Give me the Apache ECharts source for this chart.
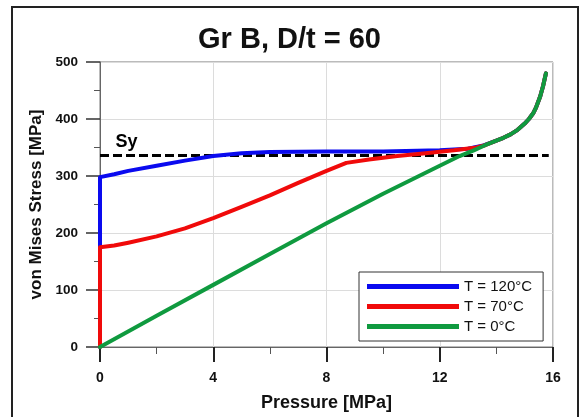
<!DOCTYPE html>
<html>
<head>
<meta charset="utf-8">
<script src="https://cdn.jsdelivr.net/npm/echarts@6/dist/echarts.min.js"></script>
<style>
  html, body { margin: 0; padding: 0; background: #fff; }
  #chart { width: 579px; height: 417px; }
</style>
</head>
<body>
<div id="chart"></div>
<script>
// Pressure [MPa] and von Mises stress [MPa] for each temperature
const seriesNames = ['T = 120°C', 'T = 70°C', 'T = 0°C'];

const p120 = [0, 0, 0.5, 1, 2, 3, 4, 5, 6, 8, 10, 12, 13, 13.5, 14, 14.25, 14.5, 14.75, 15, 15.15, 15.3, 15.4, 15.55, 15.65, 15.75];
const s120 = [0, 298, 303, 309, 318, 327, 335, 340, 342, 343, 343, 345, 348, 353, 362, 367, 373, 381, 392, 400, 410, 420, 440, 458, 480];

const p70 = [0, 0, 0.5, 1, 2, 3, 4, 5, 6, 7, 8, 8.7, 9.5, 10.5, 11.5, 12.5, 13.3, 13.6, 14, 14.25, 14.5, 14.75, 15, 15.15, 15.3, 15.4, 15.55, 15.65, 15.75];
const s70 = [0, 175, 178, 183, 194, 208, 226, 246, 266, 288, 309, 323, 329, 335, 340, 345, 350, 354, 362, 367, 373, 381, 392, 400, 410, 420, 440, 458, 480];

const p0 = [0, 2, 4, 6, 8, 10, 12, 12.7, 13.2, 13.6, 14, 14.25, 14.5, 14.75, 15, 15.15, 15.3, 15.4, 15.55, 15.65, 15.75];
const s0 = [0, 55, 109, 163, 217, 269, 318, 335, 345, 354, 362, 367, 373, 381, 392, 400, 410, 420, 440, 458, 480];

// Yield strength line
const syLabel = 'Sy';
const syValue = 336;
const syRange = [0, 15.85];
const syLabelAt = [0.53, 360];

const xTicks = { min: 0, max: 16, interval: 4 };
const yTicks = { min: 0, max: 500, interval: 100 };

const colors = ['#0a0aef', '#f00a0a', '#0f9a3f'];

const zip = (xs, ys) => xs.map((x, i) => [x, ys[i]]);

const chart = echarts.init(document.getElementById('chart'), null, { renderer: 'canvas' });

const lineSeries = [[p120, s120], [p70, s70], [p0, s0]].map((d, i) => ({
  name: seriesNames[i],
  type: 'line',
  data: zip(d[0], d[1]),
  showSymbol: false,
  symbol: 'none',
  smooth: false,
  lineStyle: { color: colors[i], width: 4, join: 'round', cap: 'round' },
  itemStyle: { color: colors[i] },
  z: 3 + i
}));

chart.setOption({
  animation: false,
  backgroundColor: '#fff',
  textStyle: { fontFamily: 'Arial, "Liberation Sans", sans-serif' },
  title: {
    text: 'Gr B, D/t = 60',
    left: 'center',
    top: 20,
    textStyle: { fontSize: 29, fontWeight: 'bold', color: '#111', fontFamily: 'Arial, "Liberation Sans", sans-serif' }
  },
  graphic: [{
    type: 'rect',
    shape: { x: 12, y: 7, width: 566, height: 430 },
    style: { fill: 'none', stroke: '#222', lineWidth: 2 },
    silent: true
  }],
  grid: {
    left: 100, top: 62, right: 26, bottom: 67,
    show: true, borderColor: '#777', borderWidth: 1, backgroundColor: 'transparent'
  },
  legend: {
    data: seriesNames,
    orient: 'vertical',
    left: 359, top: 272,
    padding: [7, 11, 7, 8],
    itemGap: 5,
    itemWidth: 92,
    itemHeight: 5,
    icon: 'rect',
    borderColor: '#333',
    borderWidth: 1,
    backgroundColor: '#fff',
    textStyle: { fontSize: 15, color: '#111', padding: [0, 0, 0, 0] }
  },
  xAxis: {
    type: 'value',
    min: xTicks.min, max: xTicks.max, interval: xTicks.interval,
    name: 'Pressure [MPa]',
    nameLocation: 'middle',
    nameGap: 47,
    nameTextStyle: { fontSize: 18, fontWeight: 'bold', color: '#111' },
    axisLine: { show: true, onZero: false, lineStyle: { color: '#666', width: 1 } },
    axisTick: { show: true, inside: false, length: 15, lineStyle: { color: '#222', width: 2 } },
    minorTick: { show: true, splitNumber: 2, length: 7, lineStyle: { color: '#555', width: 1 } },
    axisLabel: { fontSize: 14, fontWeight: 'bold', color: '#111', margin: 24 },
    splitLine: { show: true, lineStyle: { color: '#dcdcdc', width: 1 } }
  },
  yAxis: {
    type: 'value',
    min: yTicks.min, max: yTicks.max, interval: yTicks.interval,
    name: 'von Mises Stress [MPa]',
    nameLocation: 'middle',
    nameGap: 43,
    nameTextStyle: { fontSize: 17, fontWeight: 'bold', color: '#111' },
    axisLine: { show: true, onZero: false, lineStyle: { color: '#666', width: 1 } },
    axisTick: { show: true, inside: false, length: 14, lineStyle: { color: '#333', width: 1.5 } },
    minorTick: { show: true, splitNumber: 2, length: 6, lineStyle: { color: '#555', width: 1 } },
    axisLabel: { fontSize: 13.5, fontWeight: 'bold', color: '#111', margin: 22 },
    splitLine: { show: true, lineStyle: { color: '#dcdcdc', width: 1 } }
  },
  series: [
    {
      name: syLabel,
      type: 'line',
      data: [[syRange[0], syValue], [syRange[1], syValue]],
      showSymbol: false,
      symbol: 'none',
      lineStyle: { color: '#000', width: 3, type: [9, 4] },
      z: 2
    },
    ...lineSeries,
    {
      name: 'syText',
      type: 'scatter',
      data: [syLabelAt],
      symbolSize: 1,
      itemStyle: { color: '#fff', opacity: 0 },
      label: {
        show: true,
        formatter: syLabel,
        position: 'right',
        distance: 0,
        fontSize: 18,
        fontWeight: 'bold',
        color: '#000',
        opacity: 1
      },
      silent: true,
      z: 6
    }
  ]
});
</script>
</body>
</html>
